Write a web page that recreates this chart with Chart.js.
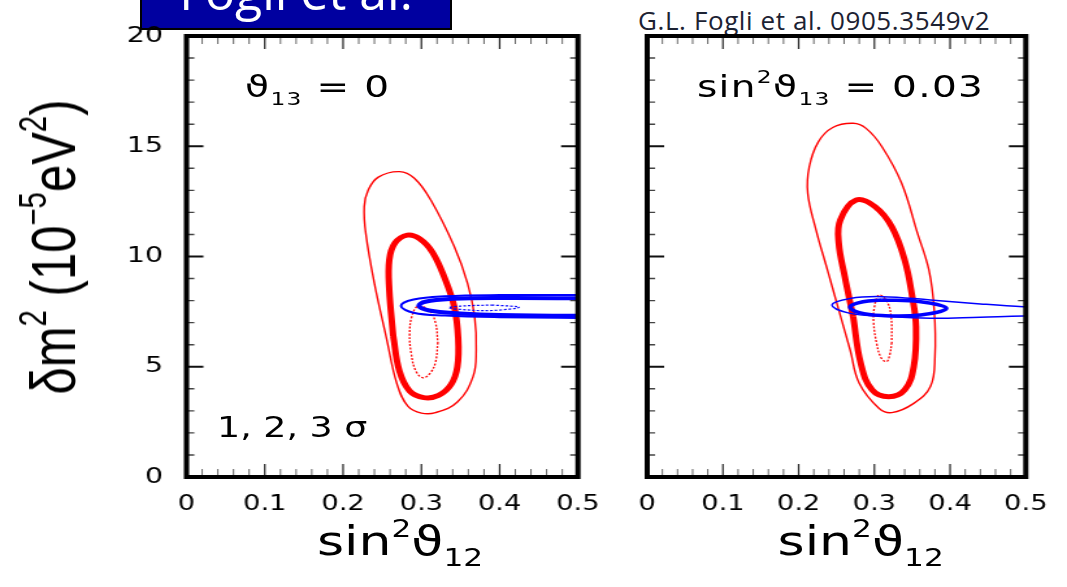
<!DOCTYPE html>
<html>
<head>
<meta charset="utf-8">
<script src="https://cdn.jsdelivr.net/npm/chart.js@4.4.1/dist/chart.umd.min.js"></script>
<style>
  body { margin: 0; width: 1067px; height: 587px; overflow: hidden; background: #fff; position: relative; }
  #stage { position: absolute; left: 0; top: 0; width: 821px; height: 587px; transform: scaleX(1.29963); transform-origin: 0 0; }
  #stage canvas { position: absolute; left: 0; top: 0; }
  .t { position: absolute; white-space: nowrap; line-height: 1; font-family: 'DejaVu Sans', sans-serif; color: #000; }
  .sup { font-size: 60%; position: relative; top: -0.75em; }
  .sub { font-size: 60%; position: relative; top: 0.45em; }
  #ytitle { font-family: 'Liberation Sans', Arial, sans-serif; font-size: 49px; left: 40.8px; top: 247px; transform: translate(-50%, -50%) rotate(-90deg); }
  #tag { position: absolute; left: 140px; top: -3px; width: 308px; height: 29px; background: #0000a0; border: 2px solid #000; overflow: hidden; }
  #tag div { position: absolute; left: 0; right: 0; top: -33px; text-align: center; font-family: 'Open Sans', sans-serif; font-size: 50px; line-height: 1; color: #fff; }
  #cite { position: absolute; left: 638px; top: 7px; font-family: 'Open Sans', sans-serif; font-size: 26px; letter-spacing: 0.6px; line-height: 1; color: #1c2233; white-space: nowrap; }
</style>
</head>
<body>
<div id="tag"><div>Fogli et al.</div></div>
<div id="cite">G.L. Fogli et al. 0905.3549v2</div>
<div id="stage">
  <canvas id="leftPanel" width="821" height="587"></canvas>
  <canvas id="rightPanel" width="821" height="587"></canvas>
  <div class="t" id="ytitle">δm<span class="sup">2</span> (10<span class="sup">−5</span>eV<span class="sup">2</span>)</div>
  <div class="t" style="left:188.5px; top:71.6px; font-size:30px; letter-spacing:1px;">ϑ<span class="sub">13</span> = 0</div>
  <div class="t" style="left:536.3px; top:71.6px; font-size:30px; letter-spacing:1px;">sin<span class="sup">2</span>ϑ<span class="sub">13</span> = 0.03</div>
  <div class="t" style="left:167px; top:414.3px; font-size:28px;">1, 2, 3 σ</div>
  <div class="t" style="left:243.9px; top:521.2px; font-size:40px;">sin<span class="sup">2</span>ϑ<span class="sub">12</span></div>
  <div class="t" style="left:598.3px; top:521.2px; font-size:40px;">sin<span class="sup">2</span>ϑ<span class="sub">12</span></div>
</div>

<script>
// theta13 = 0 panel (closed contours start mid-side so the join is smooth)
const leftRed3X = [0.255, 0.240, 0.229, 0.227, 0.232, 0.245, 0.272, 0.291, 0.312, 0.342, 0.359, 0.368, 0.370, 0.366, 0.346, 0.318, 0.300, 0.283, 0.269, 0.255];
const leftRed3Y = [6.36, 8.78, 11.05, 12.26, 13.0, 13.6, 13.85, 13.55, 12.56, 10.45, 8.78, 7.27, 5.76, 4.55, 3.4, 2.92, 2.9, 3.2, 4.2, 6.36];
const leftRed2X = [0.264, 0.259, 0.259, 0.266, 0.282, 0.298, 0.314, 0.330, 0.342, 0.347, 0.346, 0.338, 0.322, 0.303, 0.285, 0.272, 0.264];
const leftRed2Y = [6.4, 8.5, 9.84, 10.6, 10.97, 10.8, 10.2, 9.0, 7.72, 6.3, 5.0, 4.2, 3.7, 3.6, 3.9, 4.8, 6.4];
const leftRed1X = [0.321, 0.318, 0.311, 0.302, 0.293, 0.287, 0.285, 0.288, 0.296, 0.310, 0.318, 0.321];
const leftRed1Y = [6.1, 5.2, 4.7, 4.5, 4.8, 5.6, 6.5, 7.3, 7.75, 7.55, 7.0, 6.1];
const leftBlue3X = [0.55, 0.40, 0.33, 0.29, 0.274, 0.29, 0.33, 0.40, 0.55];
const leftBlue3Y = [8.25, 8.25, 8.2, 8.05, 7.76, 7.45, 7.32, 7.25, 7.2];
const leftBlue2X = [0.55, 0.40, 0.34, 0.305, 0.297, 0.31, 0.35, 0.40, 0.55];
const leftBlue2Y = [8.1, 8.12, 8.08, 7.95, 7.76, 7.55, 7.42, 7.35, 7.3];
const leftBlue1X = [0.39, 0.425, 0.39, 0.35, 0.335, 0.35, 0.39];
const leftBlue1Y = [7.8, 7.7, 7.55, 7.6, 7.68, 7.75, 7.8];

// sin^2 theta13 = 0.03 panel
const rightRed3X = [0.253, 0.238, 0.223, 0.212, 0.214, 0.226, 0.245, 0.272, 0.289, 0.310, 0.336, 0.357, 0.372, 0.379, 0.380, 0.374, 0.352, 0.323, 0.306, 0.280, 0.268, 0.253];
const rightRed3Y = [7.57, 9.39, 11.2, 12.87, 14.07, 15.2, 15.85, 16.04, 15.81, 14.98, 13.32, 11.05, 9.39, 7.57, 5.46, 4.1, 3.34, 2.92, 3.12, 4.25, 5.76, 7.57];
const rightRed2X = [0.272, 0.261, 0.253, 0.255, 0.276, 0.301, 0.323, 0.340, 0.350, 0.355, 0.352, 0.340, 0.319, 0.297, 0.282, 0.272];
const rightRed2Y = [7.27, 9.08, 10.6, 11.66, 12.56, 12.26, 11.35, 9.84, 8.18, 6.82, 5.0, 3.95, 3.64, 3.95, 5.16, 7.27];
const rightRed1X = [0.323, 0.320, 0.316, 0.309, 0.303, 0.299, 0.300, 0.306, 0.316, 0.322, 0.323];
const rightRed1Y = [6.1, 5.5, 5.23, 5.4, 6.06, 7.0, 7.7, 8.25, 8.0, 7.3, 6.1];
const rightBlue3X = [0.55, 0.497, 0.44, 0.374, 0.31, 0.268, 0.244, 0.268, 0.31, 0.374, 0.44, 0.497, 0.55];
const rightBlue3Y = [7.65, 7.72, 7.85, 8.03, 8.18, 8.1, 7.8, 7.42, 7.3, 7.2, 7.25, 7.3, 7.3];
const rightBlue2X = [0.31, 0.361, 0.395, 0.361, 0.31, 0.28, 0.268, 0.285, 0.31];
const rightBlue2Y = [8.03, 7.95, 7.65, 7.35, 7.32, 7.45, 7.72, 7.95, 8.03];

const RED = '#ff0000';
const BLUE = '#0000ff';

function contour(xs, ys, color, width, dash) {
  return {
    data: xs.map((x, i) => ({ x: x, y: ys[i] })),
    showLine: true,
    borderColor: color,
    borderWidth: width,
    borderDash: dash || [],
    pointRadius: 0,
    tension: 0.4,
    fill: false
  };
}

// frame + inward ticks on all four sides
const frameTicks = {
  id: 'frameTicks',
  afterDraw(chart) {
    const { ctx, chartArea: a, scales: { x, y } } = chart;
    ctx.save();
    for (let i = 0; i <= 25; i++) {
      const px = x.getPixelForValue(i * 0.02);
      const major = i % 5 === 0;
      const len = major ? 13 : 8;
      ctx.strokeStyle = major ? '#222' : '#555';
      ctx.lineWidth = major ? 1.2 : 0.9;
      ctx.beginPath();
      ctx.moveTo(px, a.bottom); ctx.lineTo(px, a.bottom - len);
      ctx.moveTo(px, a.top); ctx.lineTo(px, a.top + len);
      ctx.stroke();
    }
    for (let i = 0; i <= 20; i++) {
      const py = y.getPixelForValue(i);
      const major = i % 5 === 0;
      const len = major ? 13 : 6;
      ctx.strokeStyle = major ? '#111' : '#444';
      ctx.lineWidth = major ? 2 : 1.4;
      ctx.beginPath();
      ctx.moveTo(a.left, py); ctx.lineTo(a.left + len, py);
      ctx.moveTo(a.right, py); ctx.lineTo(a.right - len, py);
      ctx.stroke();
    }
    ctx.strokeStyle = '#000';
    ctx.lineWidth = 4;
    ctx.strokeRect(a.left, a.top, a.right - a.left, a.bottom - a.top);
    ctx.restore();
  }
};

function makePanel(id, datasets, showY, yWidth, padRight) {
  return new Chart(document.getElementById(id), {
    type: 'scatter',
    data: { datasets: datasets },
    options: {
      responsive: false,
      animation: false,
      devicePixelRatio: 1,
      layout: { padding: { top: 36, right: padRight, bottom: 0, left: 0 } },
      plugins: { legend: { display: false }, tooltip: { enabled: false } },
      scales: {
        x: {
          type: 'linear', min: 0, max: 0.5,
          grid: { display: false, drawTicks: false },
          border: { display: false },
          ticks: { stepSize: 0.1, padding: 15, color: '#000', font: { family: 'DejaVu Sans', size: 21 } },
          afterFit(scale) { scale.height = 110; }
        },
        y: {
          type: 'linear', min: 0, max: 20,
          grid: { display: false, drawTicks: false },
          border: { display: false },
          ticks: { display: showY, stepSize: 5, padding: 18, color: '#000', font: { family: 'DejaVu Sans', size: 22 } },
          afterFit(scale) { scale.width = yWidth; }
        }
      }
    },
    plugins: [frameTicks]
  });
}

makePanel('leftPanel', [
  contour(leftBlue3X, leftBlue3Y, BLUE, 2),
  contour(leftBlue2X, leftBlue2Y, BLUE, 4),
  contour(leftBlue1X, leftBlue1Y, BLUE, 1.2, [2, 1.5]),
  contour(leftRed3X, leftRed3Y, RED, 1.4),
  contour(leftRed2X, leftRed2Y, RED, 5),
  contour(leftRed1X, leftRed1Y, RED, 1.3, [2, 1.5])
], true, 143.5, 376.3);

makePanel('rightPanel', [
  contour(rightBlue3X, rightBlue3Y, BLUE, 1.5),
  contour(rightBlue2X, rightBlue2Y, BLUE, 3.5),
  contour(rightRed3X, rightRed3Y, RED, 1.4),
  contour(rightRed2X, rightRed2Y, RED, 5),
  contour(rightRed1X, rightRed1Y, RED, 1.3, [2, 1.5])
], false, 498, 21.5);
</script>
</body>
</html>
